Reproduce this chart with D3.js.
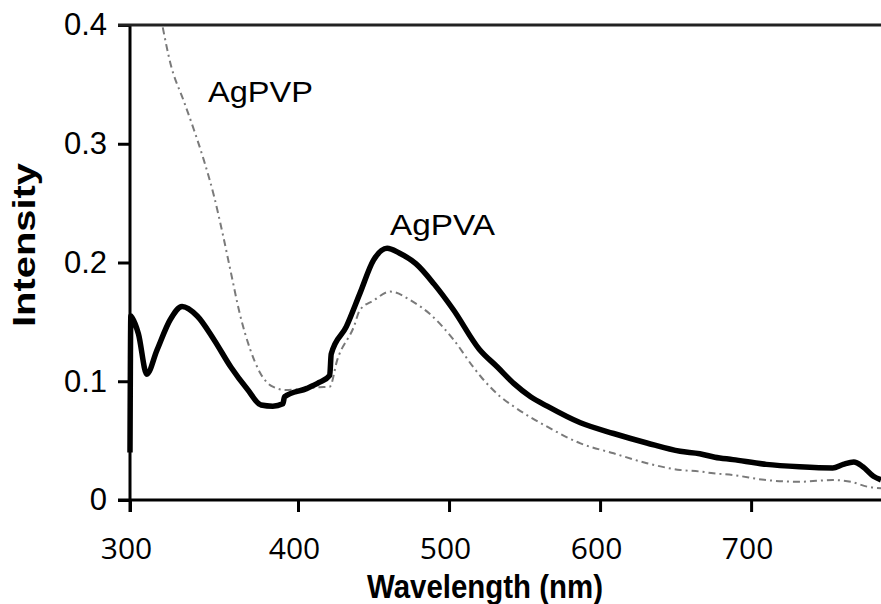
<!DOCTYPE html>
<html>
<head>
<meta charset="utf-8">
<script src="https://cdn.jsdelivr.net/npm/d3@7"></script>
<style>
  html, body { margin: 0; padding: 0; background: #fff; }
  svg { display: block; }
</style>
</head>
<body>
<svg id="chart" width="881" height="604"></svg>
<script>
// ---- data ----
const xTicks = [300, 400, 500, 600, 700];
const yTicks = [0, 0.1, 0.2, 0.3, 0.4];
const yTickLabels = ["0", "0.1", "0.2", "0.3", "0.4"];

const pvaWavelength = [300, 300.5, 301, 305, 310, 316, 324, 331, 340, 350, 360, 370, 378, 385, 391, 392, 406, 414, 421, 422, 432, 441, 450, 459, 467, 478, 490, 503, 520, 532, 543, 554, 565, 587, 609, 631, 653, 666, 676, 688, 710, 732, 754, 761, 768, 774, 781, 786];
const pvaIntensity = [0.04, 0.155, 0.154, 0.14, 0.106, 0.126, 0.152, 0.163, 0.155, 0.135, 0.112, 0.093, 0.080, 0.079, 0.081, 0.087, 0.094, 0.099, 0.105, 0.123, 0.146, 0.174, 0.202, 0.212, 0.208, 0.199, 0.182, 0.160, 0.127, 0.112, 0.098, 0.087, 0.079, 0.065, 0.056, 0.048, 0.041, 0.039, 0.036, 0.034, 0.030, 0.028, 0.027, 0.030, 0.032, 0.028, 0.020, 0.017];

const pvpWavelength = [319.5, 324, 332, 338, 344, 350, 355.5, 360, 365.5, 371.5, 377.5, 385, 393, 406, 414, 421, 426, 437, 441, 450, 461, 476, 487, 503, 516, 521, 534, 543, 565, 587, 609, 631, 653, 666, 675, 688, 710, 732, 754, 766, 777, 786];
const pvpIntensity = [0.398, 0.368, 0.336, 0.312, 0.286, 0.256, 0.222, 0.192, 0.156, 0.127, 0.107, 0.0954, 0.0926, 0.094, 0.095, 0.0954, 0.118, 0.146, 0.160, 0.168, 0.1755, 0.167, 0.157, 0.135, 0.112, 0.104, 0.087, 0.0786, 0.0617, 0.0477, 0.0393, 0.031, 0.0253, 0.024, 0.0225, 0.021, 0.0168, 0.0154, 0.0168, 0.0154, 0.0112, 0.0098];

const seriesLabels = ["AgPVA", "AgPVP"];

// ---- layout ----
const svg = d3.select("#chart");
const x = d3.scaleLinear().domain([300, 400, 786]).range([130, 298, 881]);
const y = d3.scaleLinear().domain([0, 0.4]).range([500, 25]);

// curves
const line = d3.line().x(d => x(d[0])).y(d => y(d[1])).curve(d3.curveMonotoneX);
const pva = pvaWavelength.map((w, i) => [w, pvaIntensity[i]]);
const pvp = pvpWavelength.map((w, i) => [w, pvpIntensity[i]]);

svg.append("path").datum(pvp)
  .attr("d", line).attr("fill", "none")
  .attr("stroke", "#7a7a7a").attr("stroke-width", 2)
  .attr("stroke-dasharray", "7,4,2,4");

// axes (ticks + labels)
const yAxis = d3.axisLeft(y).tickValues(yTicks)
  .tickFormat((d, i) => yTickLabels[i]).tickSize(12).tickSizeOuter(0).tickPadding(11);
const gy = svg.append("g").attr("transform", "translate(130,0)").call(yAxis);
gy.select(".domain").remove();
gy.selectAll(".tick line").attr("stroke", "#000").attr("stroke-width", 3);
gy.selectAll(".tick text").attr("fill", "#000")
  .style("font-family", "'Liberation Sans', Arial, sans-serif").style("font-size", "31px");

const xAxis = d3.axisBottom(x).tickValues(xTicks).tickFormat(d3.format("d"))
  .tickSize(12).tickSizeOuter(0).tickPadding(26);
const gx = svg.append("g").attr("transform", "translate(0,500)").call(xAxis);
gx.select(".domain").remove();
gx.selectAll(".tick line").attr("stroke", "#000").attr("stroke-width", 3);
gx.selectAll(".tick text").attr("fill", "#000").attr("dx", "-4")
  .style("font-family", "'Open Sans', sans-serif").style("font-size", "30px");

// frame lines
svg.append("line").attr("x1", 130).attr("x2", 130).attr("y1", 25).attr("y2", 512)
  .attr("stroke", "#000").attr("stroke-width", 3);
svg.append("line").attr("x1", 118).attr("x2", 881).attr("y1", 500).attr("y2", 500)
  .attr("stroke", "#000").attr("stroke-width", 3);
svg.append("line").attr("x1", 118).attr("x2", 881).attr("y1", 25).attr("y2", 25)
  .attr("stroke", "#222").attr("stroke-width", 3);

svg.append("path").datum(pva)
  .attr("d", line).attr("fill", "none")
  .attr("stroke", "#000").attr("stroke-width", 5.5)
  .attr("stroke-linejoin", "round");

// series labels
const labelFont = "'Liberation Sans', Arial, sans-serif";
svg.append("text").attr("x", 208).attr("y", 102).text(seriesLabels[1])
  .attr("textLength", 105).attr("lengthAdjust", "spacingAndGlyphs")
  .style("font-family", labelFont).style("font-size", "30px");
svg.append("text").attr("x", 390).attr("y", 235).text(seriesLabels[0])
  .attr("textLength", 105).attr("lengthAdjust", "spacingAndGlyphs")
  .style("font-family", labelFont).style("font-size", "30px");

// axis titles
svg.append("text").attr("x", 485).attr("y", 598).attr("text-anchor", "middle")
  .text("Wavelength (nm)")
  .attr("textLength", 236).attr("lengthAdjust", "spacingAndGlyphs")
  .style("font-family", labelFont).style("font-size", "33px").style("font-weight", "bold");
svg.append("text").attr("transform", "translate(35,245) rotate(-90)").attr("text-anchor", "middle")
  .text("Intensity")
  .attr("textLength", 164).attr("lengthAdjust", "spacingAndGlyphs")
  .style("font-family", labelFont).style("font-size", "31px").style("font-weight", "bold");
</script>
</body>
</html>
